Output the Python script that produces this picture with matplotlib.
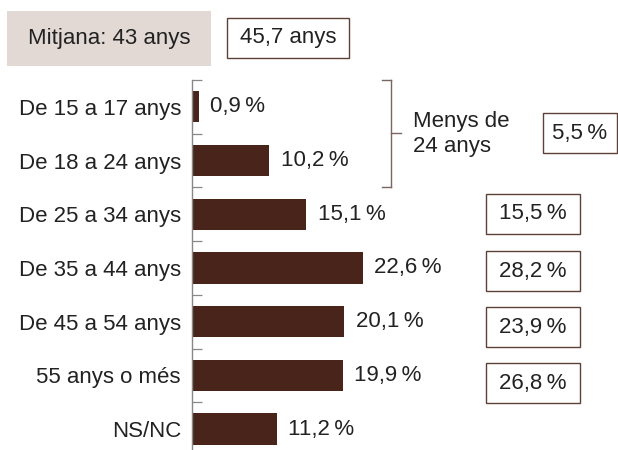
import matplotlib
matplotlib.use('Agg')
import matplotlib.pyplot as plt
from matplotlib.patches import Rectangle
from matplotlib.lines import Line2D

plt.rcParams['font.family'] = ['Liberation Sans', 'DejaVu Sans']

# data
categories = ['De 15 a 17 anys', 'De 18 a 24 anys', 'De 25 a 34 anys',
              'De 35 a 44 anys', 'De 45 a 54 anys', '55 anys o més', 'NS/NC']
values = [0.9, 10.2, 15.1, 22.6, 20.1, 19.9, 11.2]
compare_values = [15.5, 28.2, 23.9, 26.8]   # for 25-34 .. 55+
under24_value = 5.5
mean_label = 'Mitjana: 43 anys'
mean_compare = '45,7 anys'

bar_color = '#48241a'
box_edge = '#5e4038'
text_color = '#222222'
W, H = 618, 450


def pct(v):
    return ('%.1f' % v).replace('.', ',') + '\u2009%'


def fx(x):
    return x / W


def fy(y):
    return 1 - y / H


fig = plt.figure(figsize=(6.18, 4.5), dpi=100)
ax = fig.add_axes([fx(192), 0, fx(618) - fx(192), fy(80)])

y = list(range(len(categories)))
ax.barh(y, values, height=0.58, color=bar_color)
ax.set_xlim(0, (618 - 192) / 7.57)
ax.set_ylim(6.39, -0.5)

for yi, v in zip(y, values):
    ax.text(v + 1.5, yi, pct(v), va='center', ha='left', fontsize=16, color=text_color)

ax.set_yticks(y)
ax.set_yticklabels(categories, fontsize=16, color=text_color)
ax.tick_params(axis='y', which='major', length=0, pad=8)
ax.set_yticks([i - 0.5 for i in range(len(categories))], minor=True)
ax.tick_params(axis='y', which='minor', direction='in', length=7, color='#888888', width=0.9)
ax.set_xticks([])
for s in ['top', 'right', 'bottom']:
    ax.spines[s].set_visible(False)
ax.spines['left'].set_color('#888888')
ax.spines['left'].set_linewidth(1.0)


def box(x0, y0, x1, y1, text, face='white', edge=box_edge, lw=1.0):
    fig.patches.append(Rectangle((fx(x0), fy(y1)), fx(x1) - fx(x0), fy(y0) - fy(y1),
                                 transform=fig.transFigure, facecolor=face,
                                 edgecolor=edge, linewidth=lw))
    fig.text(fx((x0 + x1) / 2), fy((y0 + y1) / 2), text, ha='center', va='center',
             fontsize=16, color=text_color)


# top boxes
box(7, 11, 211, 66, mean_label, face='#e2d9d5', edge='none', lw=0)
box(227, 18, 349, 58, mean_compare)

# bracket for under-24
bc = '#7a6560'
for seg in [((382, 391), (80, 80)), ((391, 391), (80, 187)), ((382, 391), (187, 187)),
            ((391, 401), (133, 133))]:
    fig.add_artist(Line2D([fx(seg[0][0]), fx(seg[0][1])], [fy(seg[1][0]), fy(seg[1][1])],
                          transform=fig.transFigure, color=bc, linewidth=1.0))
fig.text(fx(413), fy(134), 'Menys de\n24 anys', ha='left', va='center',
         fontsize=16, color=text_color, linespacing=1.3)
box(543, 113, 617, 153, pct(under24_value))

# comparison boxes
centers = [214, 271, 327, 383]
for c, v in zip(centers, compare_values):
    box(486, c - 20, 580, c + 20, pct(v))

fig.savefig('out.png', dpi=100)
